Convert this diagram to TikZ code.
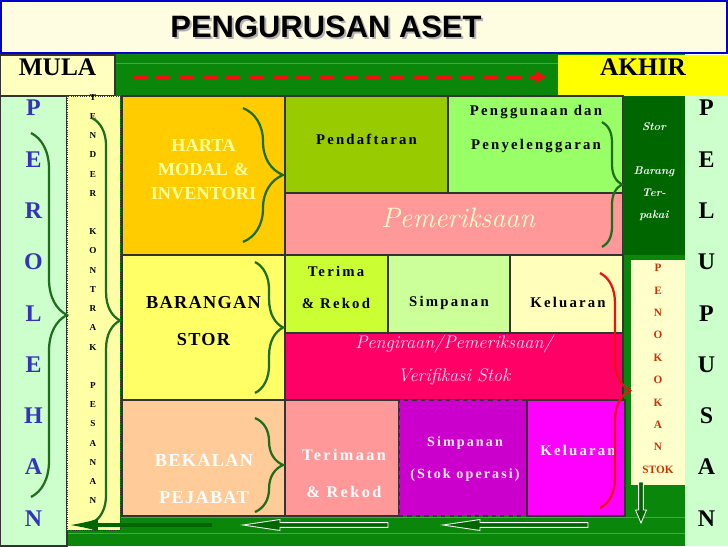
\documentclass[tikz,border=0pt]{standalone}
\usepackage{fontspec}
\newfontfamily\tnr{Liberation Serif}
\newfontfamily\arl{Liberation Sans}
\usetikzlibrary{fit,arrows.meta,decorations.pathreplacing}

\definecolor{tajukcream}{HTML}{FFFDE1}
\definecolor{tajukblue}{HTML}{0000CC}
\definecolor{mulacream}{HTML}{FFFFC0}
\definecolor{akhiryellow}{HTML}{FFFF00}
\definecolor{bandgreen}{HTML}{0A870A}
\definecolor{bandline}{HTML}{45A845}
\definecolor{darkgreen}{HTML}{006600}
\definecolor{bracegreen}{HTML}{1E6E1E}
\definecolor{sidegreen}{HTML}{CCFFCC}
\definecolor{tenderyellow}{HTML}{FFFFA6}
\definecolor{edge}{HTML}{333333}
\definecolor{hartafill}{HTML}{FFCC00}
\definecolor{hartatext}{HTML}{FFFF99}
\definecolor{daftarfill}{HTML}{99CC00}
\definecolor{gunafill}{HTML}{99FF66}
\definecolor{periksafill}{HTML}{FF9999}
\definecolor{periksatext}{HTML}{FFFFCC}
\definecolor{baranganfill}{HTML}{FFFF66}
\definecolor{terimafill}{HTML}{CCFF33}
\definecolor{simpanfill}{HTML}{CCFF99}
\definecolor{keluarfill}{HTML}{FFFFBB}
\definecolor{kirafill}{HTML}{FF0066}
\definecolor{kiratext}{HTML}{FFE0F0}
\definecolor{bekalanfill}{HTML}{FFCC99}
\definecolor{opsfill}{HTML}{CC00CC}
\definecolor{keluaropsfill}{HTML}{FF00FF}
\definecolor{tokokfill}{HTML}{FFFFCC}
\definecolor{tokoktext}{HTML}{CC3300}
\definecolor{perolehblue}{HTML}{3333BB}
\definecolor{redline}{HTML}{EE1111}

\tikzset{
  cell/.style={draw=edge, line width=1.1pt, inner sep=0pt},
  judul/.style={inner sep=0pt, font=\arl\bfseries\fontsize{22}{22}\selectfont},
  hdr/.style={font=\tnr\bfseries\fontsize{18}{18}\selectfont},
  sidecol/.style={inner sep=0pt, align=center, font=\tnr\bfseries\fontsize{17}{36.5}\selectfont},
  caps/.style={inner sep=0pt, align=center, font=\tnr\bfseries\fontsize{13}{#1}\selectfont\addfontfeature{LetterSpace=7}},
  spaced/.style={inner sep=0pt, align=center, font=\tnr\bfseries\fontsize{10.5}{#1}\selectfont\addfontfeature{LetterSpace=15}},
  slant/.style={inner sep=0pt, align=center, font=\itshape\fontsize{13}{#1}\selectfont\addfontfeature{LetterSpace=5}},
  kbrace/.style={draw=bracegreen, line width=1.6pt, decorate, decoration={brace, amplitude=#1}},
  rbrace/.style={draw=redline, line width=1.6pt, decorate, decoration={brace, amplitude=#1}},
  hollow/.style={draw=white, fill=darkgreen, line width=0.6pt}
}

\begin{document}
\begin{tikzpicture}[x=0.025cm, y=-0.025cm]
  \useasboundingbox (0,0) rectangle (728,546);
  % green ground and its stripes
  \fill[bandgreen] (67,53) rectangle (685,546);
  \draw[bandline, line width=0.5pt] (115,63) -- (558,63);
  \draw[bandline, line width=0.5pt] (120,517) -- (685,517);
  \draw[bandline, line width=0.5pt] (67,533) -- (685,533);

  % title and top row
  \node[cell, fill=tajukcream, draw=tajukblue, line width=2pt, fit={(1,1) (727,53)}] (tajuk) {};
  \node[judul, text=gray!60] (tajukS) at (328,29) {PENGURUSAN ASET};
  \node[judul] (tajukT) at (326,27) {PENGURUSAN ASET};
  \node[cell, fill=mulacream, fit={(0,55) (115,96)}, hdr] (mula) {MULA};
  \node[inner sep=0pt, fill=akhiryellow, fit={(558,55) (728,96)}, hdr] (akhir) {AKHIR};

  % side columns
  \node[cell, fill=sidegreen, fit={(0,96) (67,546)}, sidecol, text=perolehblue] (peroleh) {P\\E\\R\\O\\L\\E\\H\\A\\N};
  \node[inner sep=0pt, fill=sidegreen, fit={(685,96) (728,546)}, sidecol] (lupus) {P\\E\\L\\U\\P\\U\\S\\A\\N};
  \node[draw=edge, densely dotted, line width=0.6pt, inner sep=0pt, fill=tenderyellow, fit={(67,96) (120,530)}] (tender) {};
  \node[inner sep=0pt, align=center, font=\tnr\bfseries\fontsize{6.5}{13.66}\selectfont] (tenderT) at (93,299)
    {T\\E\\N\\D\\E\\R\\[13.66pt]K\\O\\N\\T\\R\\A\\K\\[13.66pt]P\\E\\S\\A\\N\\A\\N};

  % harta modal
  \node[cell, fill=hartafill, fit={(122,96) (285,255)}, inner sep=0pt, align=center, text=hartatext,
    font=\tnr\bfseries\fontsize{13}{17}\selectfont] (harta) {HARTA\\MODAL \&\\INVENTORI};
  \node[cell, fill=daftarfill, fit={(285,96) (448,193)}, spaced=23] (daftar) {Pendaftaran};
  \node[cell, fill=gunafill, fit={(448,96) (623,193)}] (guna) {};
  \node[spaced=23.5] (gunaT) at (536,129) {Penggunaan dan\\Penyelenggaran};
  \node[cell, fill=periksafill, fit={(285,193) (623,255)}] (periksa) {};
  \node[inner sep=0pt, text=periksatext, font=\itshape\fontsize{20}{20}\selectfont\addfontfeature{LetterSpace=8}] (periksaT) at (458,218) {Pemeriksaan};
  \node[inner sep=0pt, fill=darkgreen, fit={(623,96) (685,255)}, align=center, text=white,
    font=\bfseries\itshape\fontsize{8}{15.6}\selectfont] (storpakai) {Stor\\[15.6pt]Barang\\Ter-\\pakai};

  % barangan stor
  \node[cell, fill=baranganfill, fit={(122,255) (285,400)}, caps=26.3] (barangan) {BARANGAN\\STOR};
  \node[cell, fill=terimafill, fit={(285,255) (388,333)}] (terima) {};
  \node[spaced=22.8] (terimaT) at (336,287) {Terima\\\& Rekod};
  \node[cell, fill=simpanfill, fit={(388,255) (510,333)}] (simpan) {};
  \node[spaced=12] (simpanT) at (449,303) {Simpanan};
  \node[cell, fill=keluarfill, fit={(510,255) (623,333)}] (keluar) {};
  \node[spaced=12] (keluarT) at (568,302) {Keluaran};
  \node[cell, fill=kirafill, fit={(285,333) (623,400)}, slant=23.5, text=kiratext] (kira) {Pengiraan/Pemeriksaan/\\Verifikasi Stok};

  % bekalan pejabat
  \node[cell, fill=bekalanfill, fit={(122,400) (285,516)}] (bekalan) {};
  \node[caps=26.3, text=white] (bekalanT) at (204,479) {BEKALAN\\PEJABAT};
  \node[cell, fill=periksafill, fit={(285,400) (399,516)}] (terimaan) {};
  \node[spaced=26.3, text=white, font=\tnr\bfseries\fontsize{11.5}{26.3}\selectfont\addfontfeature{LetterSpace=15}] (terimaanT) at (344,473) {Terimaan\\\& Rekod};
  \node[draw=edge, dashed, line width=1.1pt, inner sep=0pt, fill=opsfill, fit={(399,400) (527,516)}] (simpanops) {};
  \node[spaced=22.8, text=white!90!magenta, font=\tnr\bfseries\fontsize{10}{22.8}\selectfont\addfontfeature{LetterSpace=15}] (simpanopsT) at (465,459) {Simpanan\\(Stok operasi)};
  \node[cell, fill=keluaropsfill, fit={(527,400) (625,516)}] (keluarops) {};
  \node[spaced=12, text=white] (keluaropsT) at (578,450) {Keluaran};

  % penokokan stok
  \node[inner sep=0pt, fill=tokokfill, fit={(631,260) (685,485)}, align=center, text=tokoktext,
    font=\tnr\bfseries\fontsize{8}{15.93}\selectfont] (tokok) {P\\E\\N\\O\\K\\O\\K\\A\\N\\STOK};

  % braces
  \draw[kbrace=25.6pt] (31,133) -- (31,497);
  \draw[kbrace=20pt] (92,118) -- (92,523);
  \draw[kbrace=28.4pt] (243,108) -- (243,242);
  \draw[kbrace=20pt] (255,262) -- (255,393);
  \draw[kbrace=20pt] (255,418) -- (255,512);
  \draw[kbrace=14.2pt] (602,122) -- (602,247);
  \draw[rbrace=21.3pt] (600,273) -- (600,508);

  % arrows
  \coordinate (dashL) at (133,77);
  \coordinate (dashR) at (546,77);
  \draw[redline, line width=3.2pt, dash pattern=on 10pt off 6.6pt, -{Triangle[length=7pt,width=8pt]}] (dashL) -- (dashR);
  \coordinate (balikR) at (212,525);
  \coordinate (balikL) at (67,525);
  \draw[darkgreen, line width=2.8pt, -{Latex[length=22pt,width=9pt]}] (balikR) -- (balikL);
  \draw[hollow] (588,522.6) -- (480,522.6) -- (480,519.5) -- (443,525) -- (480,530.5) -- (480,527.4) -- (588,527.4) -- cycle;
  \draw[hollow] (388,522.6) -- (280,522.6) -- (280,519.5) -- (243,525) -- (280,530.5) -- (280,527.4) -- (388,527.4) -- cycle;
  \draw[hollow] (638.6,482) -- (638.6,510) -- (635.5,510) -- (641,523) -- (646.5,510) -- (643.4,510) -- (643.4,482) -- cycle;
\end{tikzpicture}
\end{document}
